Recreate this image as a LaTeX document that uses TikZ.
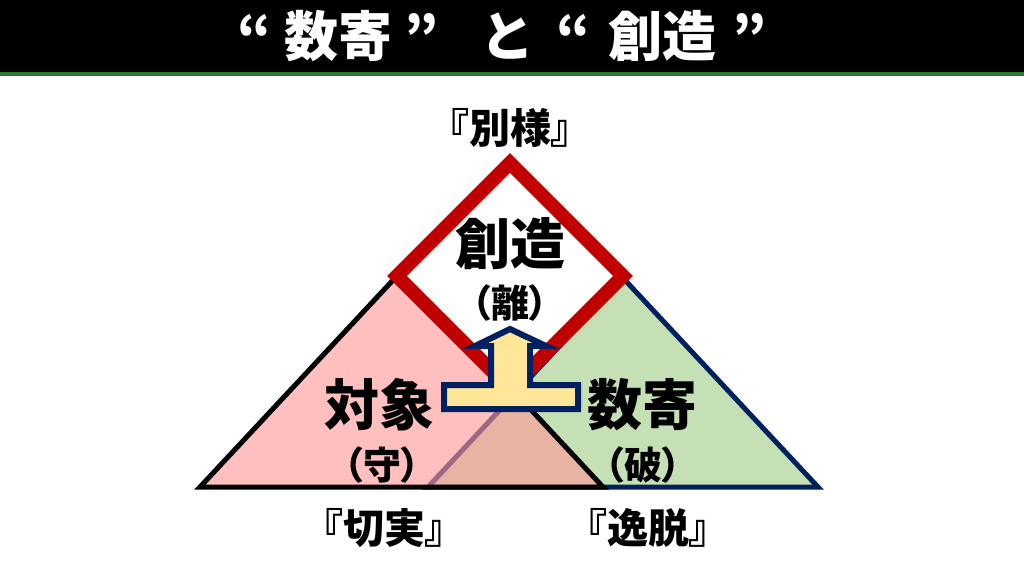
\documentclass[tikz,border=0pt]{standalone}
\usepackage{fontspec}
\newfontfamily\jp{Noto Sans CJK JP}[RawFeature=+palt]
\definecolor{titlegreen}{RGB}{46,117,52}
\definecolor{pinkfill}{RGB}{255,152,152}
\definecolor{greenfill}{RGB}{197,224,180}
\definecolor{navy}{RGB}{0,32,96}
\definecolor{redc}{RGB}{192,0,0}
\definecolor{arrowfill}{RGB}{255,230,153}
\tikzset{
  titletxt/.style={text=white,font=\jp\bfseries\fontsize{54}{54}\selectfont,anchor=base,inner sep=0pt},
  bigtxt/.style={font=\jp\bfseries\fontsize{55}{55}\selectfont,inner sep=0pt},
  midtxt/.style={font=\jp\bfseries\fontsize{38}{38}\selectfont,inner sep=0pt},
  quotetxt/.style={font=\jp\bfseries\fontsize{41}{41}\selectfont,inner sep=0pt},
  triline/.style={line width=5pt,line join=miter},
}
\begin{document}
\begin{tikzpicture}[x=1pt,y=-1pt]
\useasboundingbox (0,0) rectangle (1024,576);
\fill[white] (0,0) rectangle (1024,576);
% title bar
\fill[black] (0,0) rectangle (1024,72);
\fill[titlegreen] (0,72) rectangle (1024,76);
\node[titletxt] (t1) at (255,56) {“};
\node[titletxt] (t2) at (338,56) {数寄};
\node[titletxt] (t3) at (422,56) {”};
\node[titletxt] (t4) at (506,56) {と};
\node[titletxt] (t5) at (574,56) {“};
\node[titletxt] (t6) at (662,56) {創造};
\node[titletxt] (t7) at (750,56) {”};
% triangles
\coordinate (PL) at (200,487);
\coordinate (PR) at (603,487);
\coordinate (PA) at (401.5,271);
\coordinate (GL) at (428,487);
\coordinate (GR) at (818,487);
\coordinate (GA) at (623,278);
\filldraw[fill=greenfill,draw=navy,triline] (GL)--(GA)--(GR)--cycle;
\fill[pinkfill,fill opacity=0.61] (PL)--(PA)--(PR)--cycle;
\draw[black,triline] (PL)--(PA)--(PR)--cycle;
% diamond
\coordinate (DT) at (510,163);
\coordinate (DR) at (623,276);
\coordinate (DB) at (510,389);
\coordinate (DL) at (397,276);
\filldraw[fill=white,draw=redc,line width=14pt,line join=miter] (DT)--(DR)--(DB)--(DL)--cycle;
% T arrow
\filldraw[fill=arrowfill,draw=navy,line width=6pt,line join=miter]
  (510,329) -- (546,346) -- (530,346) -- (530,385) -- (578,385) -- (578,409)
  -- (444,409) -- (444,385) -- (491,385) -- (491,346) -- (475,346) -- cycle;
% labels
\node[quotetxt] (bes) at (510,128) {『別様』};
\node[bigtxt] (sozo) at (510,244) {創造};
\node[midtxt] (ri) at (510,303) {（離）};
\node[bigtxt] (taisho) at (379,405) {対象};
\node[midtxt] (shu) at (382,465) {（守）};
\node[bigtxt] (suki) at (642,405) {数寄};
\node[midtxt] (ha) at (643,465) {（破）};
\node[quotetxt] (setsu) at (384,528) {『切実』};
\node[quotetxt] (itsu) at (648,528) {『逸脱』};
\end{tikzpicture}
\end{document}
